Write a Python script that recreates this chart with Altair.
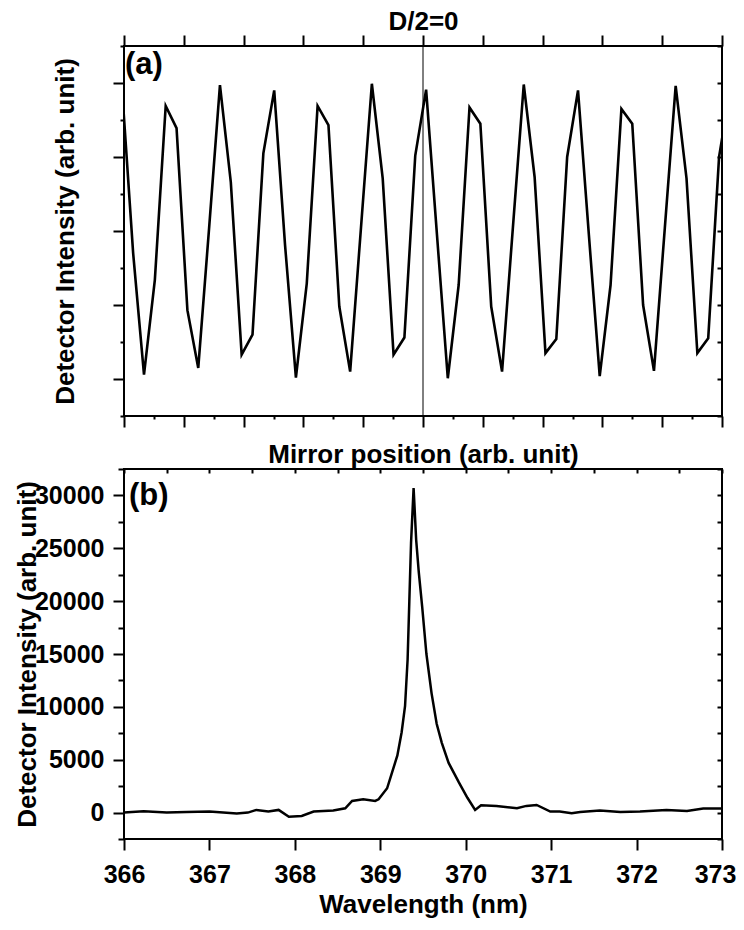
import altair as alt
import pandas as pd

FONT = "Liberation Sans"

# ---------------- panel (a): interferogram ----------------
mirror_pos = [
    -0.0284, 0.1530, 0.3344, 0.5159, 0.6973, 0.8788, 1.0602, 1.2417, 1.4231, 1.6046,
    1.7860, 1.9674, 2.1489, 2.3303, 2.5118, 2.6932, 2.8747, 3.0561, 3.2375, 3.4190,
    3.6004, 3.7819, 3.9633, 4.1448, 4.3262, 4.5077, 4.6891, 4.8705, 5.0520, 5.2334,
    5.4149, 5.5963, 5.7778, 5.9592, 6.1406, 6.3221, 6.5035, 6.6850, 6.8664, 7.0479,
    7.2293, 7.4107, 7.5922, 7.7736, 7.9551, 8.1365, 8.3180, 8.4994, 8.6808, 8.8623,
    9.0437, 9.2252, 9.4066, 9.5881, 9.7695, 9.9510, 10.1324,
]
intensity_a = [
    4.87, 2.70, 1.06, 2.34, 4.69, 4.39, 1.93, 1.15, 3.04, 4.97,
    3.66, 1.33, 1.60, 4.05, 4.90, 2.81, 1.02, 2.29, 4.69, 4.43,
    1.98, 1.10, 3.05, 4.99, 3.71, 1.33, 1.56, 4.02, 4.91, 2.95,
    1.01, 2.27, 4.67, 4.45, 1.98, 1.10, 3.05, 4.98, 3.73, 1.35,
    1.54, 4.00, 4.90, 2.95, 1.04, 2.27, 4.65, 4.45, 2.00, 1.11,
    3.04, 4.96, 3.71, 1.35, 1.55, 4.00, 4.90,
]
zero_path = [5.0]

# ---------------- panel (b): spectrum ----------------
wavelength = [
    366.00, 366.23, 366.50, 366.73, 367.00, 367.32, 367.45, 367.55, 367.69, 367.81,
    367.93, 368.08, 368.22, 368.45, 368.59, 368.67, 368.80, 368.94, 368.98, 369.08,
    369.13, 369.20, 369.25, 369.29, 369.32, 369.34, 369.36, 369.39, 369.42, 369.45,
    369.49, 369.54, 369.60, 369.66, 369.72, 369.80, 369.92, 370.02, 370.11, 370.18,
    370.36, 370.60, 370.71, 370.83, 370.99, 371.10, 371.24, 371.34, 371.57, 371.81,
    372.04, 372.35, 372.59, 372.78, 373.00,
]
intensity_b = [
    0, 120, 0, 60, 95, -95, 0, 250, 95, 250,
    -400, -320, 95, 190, 410, 1100, 1260, 1100, 1260, 2300,
    3600, 5400, 7600, 10100, 14500, 20000, 25500, 30700, 25800, 22800,
    19500, 15000, 11300, 8400, 6600, 4700, 2850, 1400, 250, 690,
    630, 410, 630, 720, 95, 95, -70, 60, 190, 60,
    95, 250, 150, 380, 380,
]

panel_labels = ["(a)", "(b)"]

# tick positions
x_ticks_a = [i * 0.5 for i in range(21)]
x_major_a = list(range(11))
y_ticks_a = [0.5 + i * 0.5 for i in range(11)]
x_ticks_b = [366 + i * 0.5 for i in range(15)]
y_ticks_b = [-2500 + i * 2500 for i in range(15)]

W, H = 598, 370

df_a = pd.DataFrame({"pos": mirror_pos, "inten": intensity_a})
df_rule = pd.DataFrame({"pos": zero_path})
df_lab_a = pd.DataFrame({"pos": [0.0], "inten": [5.5], "label": [panel_labels[0]]})
df_b = pd.DataFrame({"wl": wavelength, "inten": intensity_b})
df_lab_b = pd.DataFrame({"wl": [366.0], "inten": [32500], "label": [panel_labels[1]]})

xs_a = alt.Scale(domain=[0, 10], nice=False, zero=False)
ys_a = alt.Scale(domain=[0.5, 5.5], nice=False, zero=False)
xs_b = alt.Scale(domain=[366, 373], nice=False, zero=False)
ys_b = alt.Scale(domain=[-2500, 32500], nice=False, zero=False)

title_common = dict(titleFont=FONT, titleFontSize=26, titleFontWeight="bold", titleColor="black")

# ---- panel (a)
line_a = alt.Chart(df_a).mark_line(color="black", strokeWidth=2.6, clip=True).encode(
    x=alt.X("pos:Q", scale=xs_a, axis=alt.Axis(
        orient="bottom", values=x_ticks_a, labels=False,
        tickSize={"condition": {"test": "datum.value % 1 !== 0", "value": 3}, "value": 11},
        title="Mirror position (arb. unit)", titleY=46, titleBaseline="alphabetic", **title_common)),
    y=alt.Y("inten:Q", scale=ys_a, axis=alt.Axis(
        orient="left", values=y_ticks_a, labels=False,
        tickSize={"condition": {"test": "datum.value % 1 !== 0", "value": 4}, "value": 11},
        title="Detector Intensity (arb. unit)", titleX=-51, titleBaseline="alphabetic", **title_common)),
)
frame_a = alt.Chart(df_a).mark_line(opacity=0, clip=True).encode(
    x=alt.X("pos:Q", scale=xs_a, axis=alt.Axis(
        orient="top", values=x_major_a, labels=False, tickSize=11,
        title="D/2=0", titleY=-17, titleBaseline="alphabetic", **title_common)),
    y=alt.Y("inten:Q", scale=ys_a, axis=alt.Axis(
        orient="right", values=y_ticks_a, labels=False, tickSize=5, offset=-5, title=None)),
)
rule_a = alt.Chart(df_rule).mark_rule(color="black", strokeWidth=1).encode(
    x=alt.X("pos:Q", scale=xs_a, axis=None),
)
text_a = alt.Chart(df_lab_a).mark_text(
    align="left", baseline="top", dx=1, dy=4, font=FONT, fontSize=31, fontWeight="bold", color="black"
).encode(
    x=alt.X("pos:Q", scale=xs_a, axis=None),
    y=alt.Y("inten:Q", scale=ys_a, axis=None),
    text="label:N",
)
top = alt.layer(line_a, frame_a, rule_a, text_a).resolve_axis(
    x="independent", y="independent"
).properties(width=W, height=H)

# ---- panel (b)
line_b = alt.Chart(df_b).mark_line(color="black", strokeWidth=2.5, clip=True).encode(
    x=alt.X("wl:Q", scale=xs_b, axis=alt.Axis(
        orient="bottom", values=x_ticks_b, format="d",
        labelExpr="datum.value % 1 === 0 ? datum.label : ''", labelPadding=12,
        labelOffset={"condition": {"test": "datum.value === 373", "value": -7}, "value": 0},
        tickSize={"condition": {"test": "datum.value % 1 !== 0", "value": 7}, "value": 11},
        title="Wavelength (nm)", titleY=73, titleBaseline="alphabetic", **title_common)),
    y=alt.Y("inten:Q", scale=ys_b, axis=alt.Axis(
        orient="left", values=y_ticks_b, format="d",
        labelExpr="datum.value % 5000 === 0 ? datum.label : ''", labelPadding=9,
        tickSize={"condition": {"test": "datum.value % 5000 !== 0", "value": 6}, "value": 11},
        title="Detector Intensity (arb. unit)", titleX=-89, titleBaseline="alphabetic", **title_common)),
)
frame_b = alt.Chart(df_b).mark_line(opacity=0, clip=True).encode(
    x=alt.X("wl:Q", scale=xs_b, axis=alt.Axis(
        orient="top", values=x_ticks_b, labels=False, tickSize=4, offset=-4, title=None)),
    y=alt.Y("inten:Q", scale=ys_b, axis=alt.Axis(
        orient="right", values=y_ticks_b, labels=False, tickSize=5, offset=-5, title=None)),
)
text_b = alt.Chart(df_lab_b).mark_text(
    align="left", baseline="top", dx=5, dy=12, font=FONT, fontSize=31, fontWeight="bold", color="black"
).encode(
    x=alt.X("wl:Q", scale=xs_b, axis=None),
    y=alt.Y("inten:Q", scale=ys_b, axis=None),
    text="label:N",
)
bottom = alt.layer(line_b, frame_b, text_b).resolve_axis(
    x="independent", y="independent"
).properties(width=W, height=H)

chart = alt.vconcat(top, bottom, spacing=53, bounds="flush").properties(
    autosize=alt.AutoSizeParams(type="none"),
    padding={"left": 116, "top": 38, "right": 14, "bottom": 872},
).configure_view(
    stroke="black", strokeWidth=2
).configure_axis(
    domain=False, grid=False,
    labelFont=FONT, labelFontSize=25, labelFontWeight="bold", labelColor="black",
    labelFlush=False, labelOverlap=False,
    tickColor="black", tickWidth=2,
)

chart.save("out.html", embed_options={"renderer": "svg", "actions": False})
